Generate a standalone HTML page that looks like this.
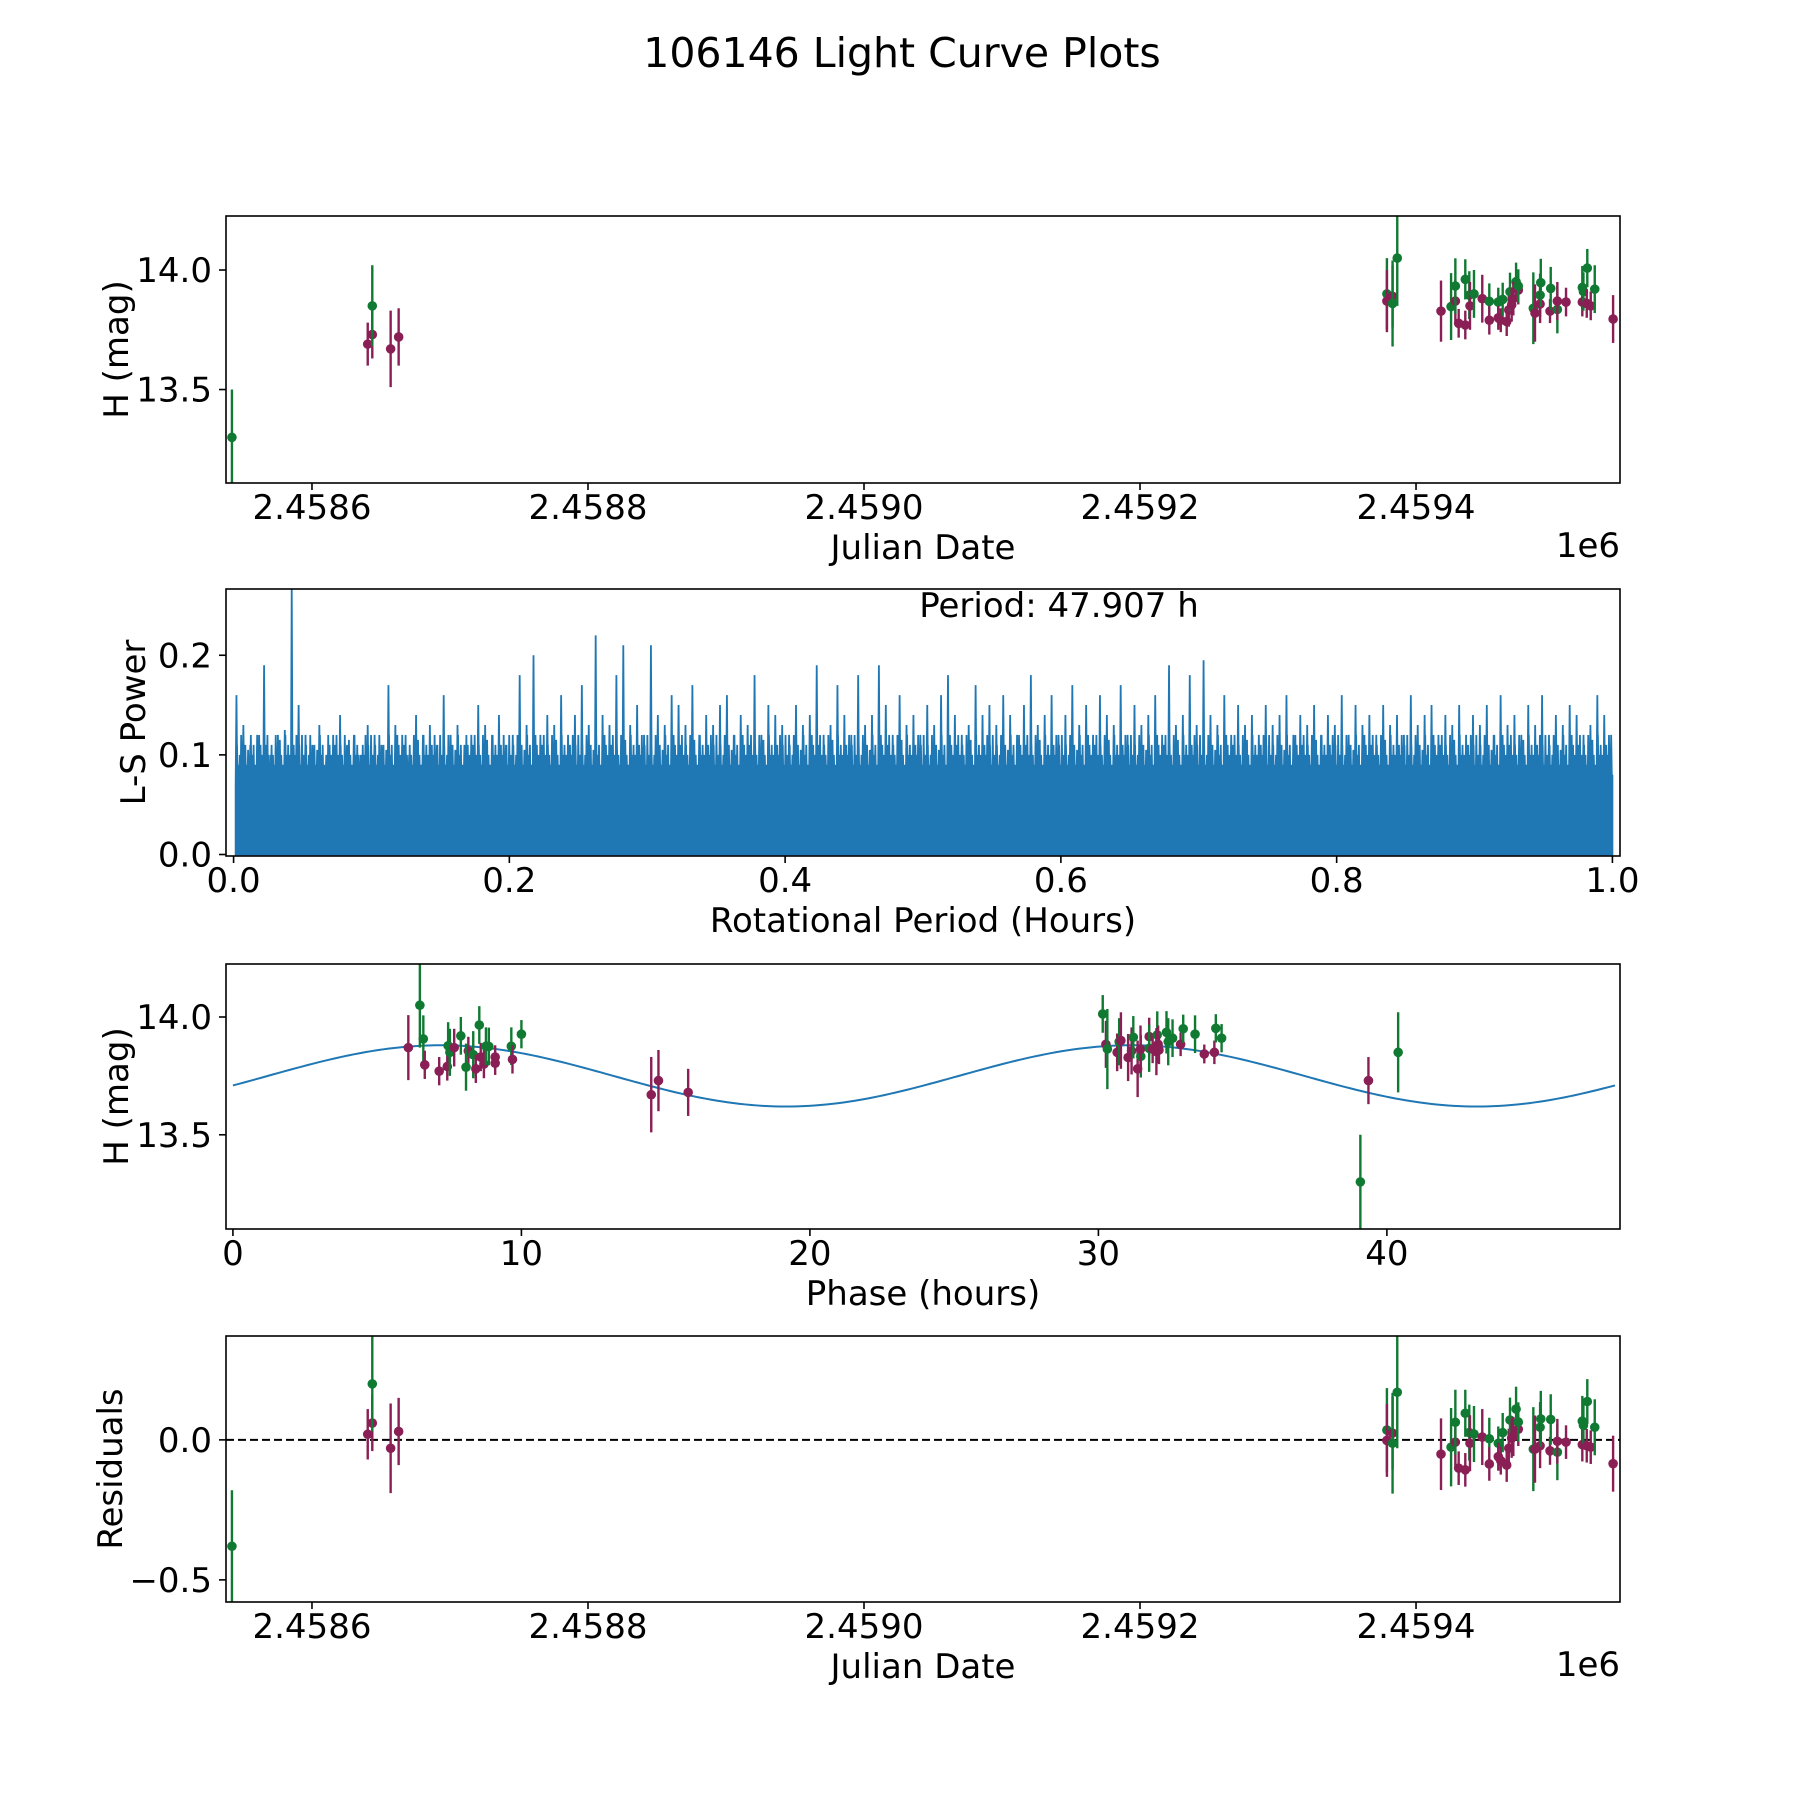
<!DOCTYPE html>
<html><head><meta charset="utf-8">
<style>
html,body{margin:0;padding:0;background:#fff;}
svg{display:block;font-family:"DejaVu Sans","Liberation Sans",sans-serif;}
</style></head>
<body>
<svg id="fig" width="1800" height="1800" viewBox="0 0 1800 1800">
<text x="902" y="67" font-size="41" text-anchor="middle">106146 Light Curve Plots</text>
</svg>
<script>
// ---------- DATA ----------
const jdOffset = 2458600;
const jdDays = [-58,40.4,43.7,43.7,57,62.8,778.9,778.9,783,783,786.4,
 818.1,825.4,828.5,828.5,830.9,835.7,835.7,838.6,839.1,842,848,853.1,853.1,859.6,859.6,861.4,862.8,865.7,867.2,868.1,869.3,872.5,874.1,870.5,874.1,885,886.2,889.9,889.9,890.4,897.1,897.6,902.4,902.4,908.7,920.5,920.5,924.1,921.3,923.7,926.6,929.5,942.8];
const mags = [13.30,13.69,13.73,13.85,13.67,13.72,13.90,13.87,13.89,13.86,14.05,
 13.828,13.847,13.870,13.933,13.777,13.77,13.961,13.895,13.85,13.90,13.88,13.869,13.79,13.866,13.80,13.79,13.877,13.784,13.833,13.909,13.854,13.951,13.916,13.88,13.933,13.84,13.82,13.895,13.858,13.947,13.828,13.923,13.835,13.87,13.866,13.927,13.866,14.008,13.91,13.86,13.85,13.92,13.795];
const magErr = [0.2,0.09,0.1,0.17,0.16,0.12,0.15,0.13,0.13,0.18,0.2,
 0.128,0.14,0.09,0.116,0.06,0.06,0.084,0.1,0.1,0.1,0.1,0.075,0.06,0.06,0.05,0.05,0.07,0.06,0.07,0.08,0.07,0.08,0.06,0.07,0.07,0.15,0.12,0.09,0.08,0.1,0.05,0.09,0.1,0.08,0.06,0.09,0.06,0.08,0.08,0.06,0.06,0.1,0.1];
const filt = ["g","m","m","g","m","m","g","m","m","g","g",
 "m","g","m","g","m","m","g","g","m","g","m","g","m","g","m","m","g","m","m","g","m","g","m","m","g","g","m","g","m","g","m","g","g","m","m","g","m","g","g","m","m","g","m"];
const residuals = [-0.38,0.02,0.06,0.20,-0.03,0.03,0.035,-0.002,0.024,-0.012,0.17,
 -0.051,-0.026,-0.008,0.063,-0.101,-0.107,0.095,0.026,-0.012,0.021,0.01,0.004,-0.086,-0.012,-0.06,-0.074,0.026,-0.09,-0.03,0.071,0.006,0.11,0.038,0.012,0.064,-0.033,-0.033,0.045,-0.021,0.075,-0.039,0.073,-0.044,-0.005,-0.008,0.067,-0.017,0.137,0.052,-0.021,-0.026,0.045,-0.085];

const phases = [6.08,6.48,6.6,6.65,7.15,7.46,7.43,7.52,7.67,7.9,8.16,8.08,8.33,8.42,8.54,8.59,8.7,8.77,8.87,9.09,9.09,9.65,9.69,10.0,
 14.5,14.75,15.78,
 30.15,30.26,30.31,30.65,30.72,30.78,31.03,31.15,31.21,31.36,31.47,31.46,31.76,31.76,31.88,32.04,32.07,32.01,32.1,32.36,32.42,32.57,32.85,32.94,33.35,33.67,34.02,34.07,34.27,
 39.08,39.36,40.39];
const phaseMags = [13.87,14.05,13.907,13.797,13.77,13.878,13.79,13.85,13.87,13.92,13.856,13.787,13.84,13.78,13.966,13.83,13.80,13.876,13.875,13.83,13.804,13.876,13.82,13.927,
 13.67,13.73,13.68,
 14.013,13.884,13.864,13.85,13.895,13.90,13.828,13.856,13.914,13.78,13.833,13.864,13.917,13.867,13.864,13.924,13.884,13.853,13.86,13.935,13.895,13.91,13.884,13.95,13.927,13.843,13.85,13.952,13.91,
 13.30,13.73,13.85];
const phaseErr = [0.138,0.18,0.1,0.06,0.06,0.1,0.06,0.1,0.08,0.08,0.06,0.1,0.1,0.06,0.08,0.06,0.06,0.08,0.08,0.05,0.05,0.08,0.06,0.06,
 0.16,0.13,0.1,
 0.08,0.1,0.17,0.08,0.1,0.12,0.1,0.1,0.09,0.12,0.09,0.1,0.08,0.1,0.06,0.1,0.08,0.1,0.06,0.09,0.1,0.08,0.05,0.06,0.08,0.04,0.05,0.06,0.06,
 0.2,0.1,0.17];
const phaseFilt = ["m","g","g","m","m","g","m","g","m","g","m","g","g","m","g","m","m","g","g","m","m","g","m","g",
 "m","m","m",
 "g","m","g","m","g","m","m","m","g","m","g","m","m","g","m","g","m","m","m","g","g","g","m","g","g","m","m","g","g",
 "g","m","g"];

const modelMean = 13.75, modelAmp = 0.13, modelPeriod = 23.95, modelPeak = 7.2, periodHours = 47.907;

// periodogram major peak heights (x from 0 to 1, evenly spaced)
const lsPeaks = [0.16,0.13,0.11,0.12,0.19,0.10,0.12,0.125,0.27,0.15,0.12,0.11,0.13,0.10,0.12,0.14,0.11,0.12,0.10,0.13,
 0.12,0.11,0.17,0.13,0.12,0.10,0.14,0.12,0.13,0.11,0.16,0.12,0.13,0.11,0.12,0.15,0.13,0.12,0.14,0.11,
 0.12,0.18,0.13,0.20,0.12,0.14,0.13,0.16,0.12,0.14,0.17,0.13,0.22,0.14,0.13,0.18,0.21,0.13,0.15,0.12,
 0.21,0.14,0.13,0.16,0.15,0.13,0.17,0.12,0.14,0.13,0.15,0.16,0.12,0.14,0.13,0.18,0.12,0.15,0.14,0.13,
 0.12,0.15,0.13,0.14,0.19,0.12,0.13,0.17,0.14,0.12,0.18,0.13,0.14,0.19,0.15,0.12,0.16,0.13,0.14,0.12,
 0.15,0.13,0.16,0.18,0.14,0.12,0.13,0.17,0.14,0.15,0.13,0.16,0.14,0.12,0.15,0.18,0.13,0.14,0.16,0.12,
 0.14,0.17,0.13,0.15,0.12,0.16,0.14,0.13,0.17,0.12,0.15,0.13,0.14,0.16,0.12,0.19,0.13,0.14,0.18,0.13,
 0.195,0.14,0.13,0.16,0.12,0.15,0.13,0.14,0.12,0.15,0.13,0.14,0.16,0.12,0.14,0.13,0.15,0.12,0.14,0.13,
 0.16,0.12,0.15,0.13,0.14,0.12,0.15,0.13,0.14,0.12,0.16,0.13,0.14,0.15,0.12,0.14,0.13,0.15,0.12,0.14,
 0.13,0.15,0.12,0.16,0.13,0.14,0.12,0.15,0.13,0.16,0.12,0.14,0.13,0.15,0.14,0.12,0.13,0.16,0.14,0.12];
// minor peaks between major ones (4 per gap, read as typical dense band heights)
const lsMinor = [0.11,0.09,0.10,0.12, 0.10,0.11,0.09,0.105, 0.12,0.10,0.11,0.09, 0.10,0.12,0.11,0.10, 0.09,0.11,0.12,0.10,
 0.11,0.10,0.09,0.12, 0.10,0.115,0.10,0.09, 0.12,0.10,0.11,0.10, 0.09,0.11,0.10,0.12, 0.11,0.09,0.12,0.10];
const lsFloor = 0.08;

const jdTicks = [2458600,2458800,2459000,2459200,2459400];
const jdTickLabels = ["2.4586","2.4588","2.4590","2.4592","2.4594"];
const magTicks = [13.5,14.0];
const magTickLabels = ["13.5","14.0"];
const lsXTicks = [0,0.2,0.4,0.6,0.8,1.0];
const lsXTickLabels = ["0.0","0.2","0.4","0.6","0.8","1.0"];
const lsYTicks = [0,0.1,0.2];
const lsYTickLabels = ["0.0","0.1","0.2"];
const phaseTicks = [0,10,20,30,40];
const phaseTickLabels = ["0","10","20","30","40"];
const resTicks = [-0.5,0.0];
const resTickLabels = ["\u22120.5","0.0"];

// ---------- DRAWING ----------
const NS = "http://www.w3.org/2000/svg";
const svg = document.getElementById("fig");
const GREEN = "#107a32", MAG = "#8a1f55", BLUE = "#1f77b4";
const L = 226, R = 1620;
const FS = 34;
function mk(tag, attrs, parent){
  const e = document.createElementNS(NS, tag);
  for (const k in attrs) e.setAttribute(k, attrs[k]);
  (parent || svg).appendChild(e);
  return e;
}
function scale(d0,d1,p0,p1){ return v => p0 + (v-d0)/(d1-d0)*(p1-p0); }

function axesFrame(name, top, bottom, xs, ys, xt, xl, yt, yl, xlabel, ylabel, ylabelX){
  const g = mk("g", {});
  
  
  const clipId = name + "-clip";
  const cp = mk("clipPath", {id: clipId}, g);
  mk("rect", {x: L, y: top, width: R-L, height: bottom-top}, cp);
  const plot = mk("g", {"clip-path": "url(#" + clipId + ")"}, g);
  
  
  const axisG = mk("g", {}, g);
  xt.forEach((v,i) => {
    const x = xs(v);
    mk("line", {x1:x, x2:x, y1:bottom, y2:bottom+7, stroke:"#000", "stroke-width":1.6}, axisG);
    const t = mk("text", {x:x, y:bottom+36, "font-size":FS, "text-anchor":"middle"}, axisG);
    t.textContent = xl[i];
    
    
  });
  yt.forEach((v,i) => {
    const y = ys(v);
    mk("line", {x1:L-7, x2:L, y1:y, y2:y, stroke:"#000", "stroke-width":1.6}, axisG);
    const t = mk("text", {x:L-14, y:y+12, "font-size":FS, "text-anchor":"end"}, axisG);
    t.textContent = yl[i];
    
    
  });
  const xlab = mk("text", {x:(L+R)/2, y:bottom+76, "font-size":FS, "text-anchor":"middle"}, axisG);
  xlab.textContent = xlabel;
  
  
  const ylab = mk("text", {x:ylabelX, y:(top+bottom)/2, "font-size":FS, "text-anchor":"middle",
    transform:"rotate(-90 " + ylabelX + " " + (top+bottom)/2 + ")"}, axisG);
  ylab.textContent = ylabel;
  
  
  return {g, plot, finish(){
    const fr = mk("rect", {x:L, y:top, width:R-L, height:bottom-top, fill:"none", stroke:"#000", "stroke-width":1.6}, g);
    
    
  }};
}

function errPoint(parent, x, yv, ylo, yhi, color){
  const g = mk("g", {}, parent);
  
  
  mk("line", {x1:x, x2:x, y1:ylo, y2:yhi, stroke:color, "stroke-width":2.4}, g);
  mk("circle", {cx:x, cy:yv, r:4.8, fill:color}, g);
}

function jdAxis(){ return scale(2458537.7, 2459547.8, L, R); }
function add1e6(bottom){
  const t = mk("text", {x:R, y:bottom+74, "font-size":FS, "text-anchor":"end"});
  t.textContent = "1e6";
  
  
}

// Panel 1
(function(){
  const top=216, bottom=483;
  const xs = jdAxis(), ys = scale(13.109, 14.226, bottom, top);
  const ax = axesFrame("light-curve-panel", top, bottom, xs, ys, jdTicks, jdTickLabels, magTicks, magTickLabels, "Julian Date", "H (mag)", 128);
  jdDays.forEach((d,i) => {
    const c = filt[i] === "g" ? GREEN : MAG;
    errPoint(ax.plot, xs(jdOffset + d), ys(mags[i]), ys(mags[i]-magErr[i]), ys(mags[i]+magErr[i]), c);
  });
  ax.finish();
  add1e6(bottom);
})();

// Panel 2: periodogram
(function(){
  const top=589, bottom=856;
  const xs = scale(-0.0055, 1.0055, L, R), ys = scale(-0.0015, 0.2665, bottom, top);
  const ax = axesFrame("periodogram-panel", top, bottom, xs, ys, lsXTicks, lsXTickLabels, lsYTicks, lsYTickLabels, "Rotational Period (Hours)", "L-S Power", 145);
  const n = lsPeaks.length;
  const step = 1/(n-1)*0.997;
  const sub = 4;
  let d = "M" + xs(0.0015) + "," + ys(0);
  let m = 0;
  lsPeaks.forEach((p,i) => {
    const xv = 0.0015 + i*step;
    const x0 = xs(xv);
    d += " L" + x0.toFixed(2) + "," + ys(lsFloor - 0.01).toFixed(2);
    d += " L" + (x0+0.8).toFixed(2) + "," + ys(p).toFixed(2);
    d += " L" + (x0+1.6).toFixed(2) + "," + ys(lsFloor - 0.01).toFixed(2);
    if (i < n-1) {
      const w = xs(xv+step) - x0;
      for (let k=1;k<=sub;k++){
        const mv = lsMinor[(m++) % lsMinor.length];
        const xx = x0 + w*k/(sub+1);
        d += " L" + (xx-0.6).toFixed(2) + "," + ys(lsFloor - 0.008).toFixed(2);
        d += " L" + xx.toFixed(2) + "," + ys(mv).toFixed(2);
        d += " L" + (xx+0.6).toFixed(2) + "," + ys(lsFloor - 0.008).toFixed(2);
      }
    }
  });
  d += " L" + xs(1.0) + "," + ys(lsFloor) + " L" + xs(1.0) + "," + ys(0) + " Z";
  const p = mk("path", {d:d, fill:BLUE, stroke:BLUE, "stroke-width":1.8, "stroke-linejoin":"miter"}, ax.plot);
  
  
  ax.finish();
  const t = mk("text", {x:1059, y:617, "font-size":FS, "text-anchor":"middle"});
  t.textContent = "Period: " + periodHours.toFixed(3) + " h";
  
  
})();

// Panel 3
(function(){
  const top=964, bottom=1229;
  const xs = scale(-0.24, 48.08, L, R), ys = scale(13.10, 14.225, bottom, top);
  const ax = axesFrame("phase-panel", top, bottom, xs, ys, phaseTicks, phaseTickLabels, magTicks, magTickLabels, "Phase (hours)", "H (mag)", 128);
  let d = "";
  for (let k=0;k<=240;k++){
    const t = k/240*periodHours;
    const v = modelMean + modelAmp*Math.cos(2*Math.PI*(t-modelPeak)/modelPeriod);
    d += (k?" L":"M") + xs(t).toFixed(2) + "," + ys(v).toFixed(2);
  }
  const ml = mk("path", {d:d, fill:"none", stroke:BLUE, "stroke-width":2}, ax.plot);
  
  
  phases.forEach((ph,i) => {
    const c = phaseFilt[i] === "g" ? GREEN : MAG;
    errPoint(ax.plot, xs(ph), ys(phaseMags[i]), ys(phaseMags[i]-phaseErr[i]), ys(phaseMags[i]+phaseErr[i]), c);
  });
  ax.finish();
})();

// Panel 4
(function(){
  const top=1336, bottom=1602;
  const xs = jdAxis(), ys = scale(-0.579, 0.371, bottom, top);
  const ax = axesFrame("residuals-panel", top, bottom, xs, ys, jdTicks, jdTickLabels, resTicks, resTickLabels, "Julian Date", "Residuals", 122);
  const zl = mk("line", {x1:L, x2:R, y1:ys(0), y2:ys(0), stroke:"#000", "stroke-width":2, "stroke-dasharray":"8,4"}, ax.plot);
  
  
  jdDays.forEach((dd,i) => {
    const c = filt[i] === "g" ? GREEN : MAG;
    errPoint(ax.plot, xs(jdOffset + dd), ys(residuals[i]), ys(residuals[i]-magErr[i]), ys(residuals[i]+magErr[i]), c);
  });
  ax.finish();
  add1e6(bottom);
})();
</script>
</body></html>
